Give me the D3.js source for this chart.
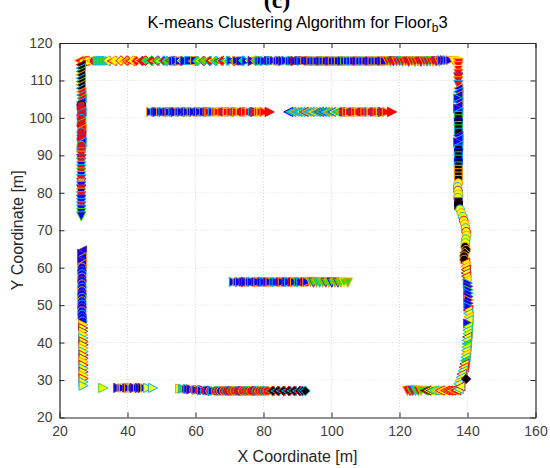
<!DOCTYPE html>
<html>
<head>
<meta charset="utf-8">
<script src="https://cdn.jsdelivr.net/npm/d3@7"></script>
<style>
  body { margin: 0; background: #fff; }
  svg { display: block; }
</style>
</head>
<body>
<svg width="550" height="468"></svg>
<script>
// Axis ticks
var xTicks = [20, 40, 60, 80, 100, 120, 140, 160];
var yTicks = [20, 30, 40, 50, 60, 70, 80, 90, 100, 110, 120];

// Points: [x, y, code]  code = shape + fill + edge
// shapes: < > v triangles, o circle, s square, d diamond
var topCorridor = [
  [25.8,115.3,"<ro"],[26.6,115.2,"<yr"],[27.5,115.4,"<oy"],[28.3,115.2,"oyr"],[29.2,115.3,"<yo"],[30.0,115.2,"ory"],
  [31.0,115.2,"sgc"],[31.9,115.3,"sgc"],[32.8,115.2,"sgc"],[33.6,115.2,"<gc"],[34.5,115.3,"dyo"],[35.4,115.2,"<yr"],
  [36.3,115.3,"dyo"],[37.2,115.2,"<oy"],[38.1,115.3,"dyr"],[39.0,115.2,"<yo"],[39.9,115.3,"dor"],[40.8,115.2,"<yr"],
  [41.7,115.3,"dyo"],[42.6,115.2,"dro"],[43.5,115.3,"<ry"],[44.4,115.2,"drp"],[45.3,115.3,"dgr"],[46.2,115.2,"<gc"],
  [47.1,115.3,"drg"],[48.0,115.2,"<go"],[48.9,115.3,"dgp"],[49.8,115.2,"<gy"],[50.7,115.3,"drc"],[51.6,115.2,"dgc"],
  [52.5,115.3,"<gp"],[53.4,115.2,"sbp"],[54.3,115.3,">bc"],[55.2,115.2,"sbo"],[56.1,115.3,"dgy"],[57.0,115.2,">bp"],
  [57.9,115.3,"sbc"],[58.8,115.2,"<gp"],[59.7,115.3,"sbo"],[60.6,115.2,"dgc"],[61.5,115.3,"<gy"],[62.4,115.2,"dgp"],
  [63.3,115.3,"<go"],[64.2,115.2,"drc"],[65.1,115.3,"<gy"],[66.0,115.2,"dgc"],[66.9,115.3,"<gp"],[67.8,115.2,"dro"],
  [68.7,115.3,"<gc"],[69.6,115.2,"dgy"],[70.5,115.3,">bc"],[71.4,115.2,"dgp"],[72.3,115.3,">bo"],[73.2,115.2,"sbp"],
  [74.1,115.3,"dgc"],[75.0,115.2,">bc"],[75.9,115.3,"<gy"],[76.8,115.2,">bp"],[77.7,115.3,"dgo"],[78.6,115.2,"sbc"],
  [79.5,115.3,">bg"],[80.4,115.2,">bc"],[81.3,115.3,"sbp"],[82.2,115.2,">bc"],[83.1,115.3,">bg"],[84.0,115.2,"sbo"],
  [84.9,115.3,">bc"],[85.8,115.2,">bp"],[86.7,115.3,">bc"],[87.6,115.2,"sbg"],[88.5,115.3,">bc"],[89.4,115.2,">br"],
  [90.3,115.3,"sbp"],[91.2,115.2,">bc"],[92.1,115.3,"sbo"],[93.0,115.2,"sbp"],[93.9,115.2,"sbo"],[94.8,115.2,"sbc"],
  [95.7,115.2,"sbo"],[96.6,115.2,"sbp"],[97.5,115.2,"sbg"],[98.4,115.2,"sbo"],[99.3,115.2,"sbp"],[100.2,115.2,"sbo"],
  [101.1,115.2,"sbc"],[102.0,115.2,"sbo"],[102.9,115.2,"sbp"],[103.8,115.2,"sbg"],[104.7,115.2,"sbo"],[105.6,115.2,"sbc"],
  [106.5,115.2,"sbo"],[107.4,115.2,"sbp"],[108.3,115.2,"sbo"],[109.2,115.2,"sbc"],[110.1,115.2,"sbo"],[111.0,115.2,"sbp"],
  [111.9,115.2,"sbo"],[112.8,115.2,"sbg"],[113.7,115.2,"sbo"],[114.6,115.2,"sbp"],[115.5,115.2,"sbo"],[116.4,115.1,"vro"],
  [117.3,115.0,"vrg"],[118.2,115.1,"vrp"],[119.1,115.0,"vro"],[120.0,115.1,"vrc"],[120.9,115.0,"vrg"],[121.8,115.1,"vro"],
  [122.7,115.0,"vrp"],[123.6,115.1,"vro"],[124.5,115.0,"vrg"],[125.4,115.1,"vro"],[126.3,115.0,"vrp"],[127.2,115.1,"vro"],
  [128.1,115.0,"vrc"],[129.0,115.1,"vrg"],[129.9,115.0,"vro"],[130.8,115.1,"vrp"],[131.7,115.0,"vro"],[132.6,115.4,">bc"],
  [133.4,115.4,">bp"],[134.2,115.4,">bc"],[135.0,115.4,">bo"],[135.9,115.2,"vyo"],[136.7,115.0,"voy"],[137.4,114.6,"vro"]
];

var leftUpper = [
  [26.3,114.2,"<kr"],[26.3,113.3,"<kc"],[26.3,112.4,"<kg"],[26.3,111.5,"<ko"],[26.3,110.6,"<kc"],[26.3,109.7,"<kg"],
  [26.3,108.8,"<ko"],[26.3,107.9,"<kc"],[26.4,107.0,"<ro"],[26.4,106.1,"<rc"],[26.5,105.2,"<rg"],[26.4,104.3,"<bc"],
  [26.4,103.4,"ork"],[26.4,102.5,"orp"],[26.5,101.6,"<rc"],[26.4,100.7,"orp"],[26.4,99.8,"orc"],[26.4,98.9,"<rg"],
  [26.4,98.0,"orp"],[26.5,97.1,"<ro"],[26.4,96.2,"orc"],[26.4,95.3,"<rp"],[26.4,94.4,"orp"],[26.5,93.5,"<bc"],
  [26.4,92.6,"org"],[26.4,91.7,"orp"],[26.5,90.8,"vrc"],[26.4,89.9,"vro"],[26.4,89.0,"vrp"],[26.4,88.1,"vrc"],
  [26.4,87.2,"vbo"],[26.4,86.3,"vrc"],[26.4,85.4,"vrg"],[26.4,84.5,"vbo"],[26.4,83.6,"vrc"],[26.4,82.7,"vop"],
  [26.4,81.8,"vbc"],[26.4,80.9,"vrp"],[26.4,80.0,"vbo"],[26.4,79.1,"vrc"],[26.4,78.2,"vbp"],[26.4,77.3,"vbc"],
  [26.4,76.4,"vrc"],[26.4,75.5,"vbc"],[26.4,74.6,"vbg"],[26.4,73.7,"vbg"]
];

var leftLower = [
  [26.6,64.6,"<bp"],[26.7,63.7,">bp"],[26.6,62.8,"<bo"],[26.7,61.9,">bp"],[26.6,61.0,"<bo"],[26.6,60.1,"obo"],
  [26.6,59.2,"obp"],[26.6,58.3,"obc"],[26.6,57.4,"obo"],[26.6,56.5,"obp"],[26.6,55.6,"obo"],[26.6,54.7,"obc"],
  [26.6,53.8,"obo"],[26.6,52.9,"obp"],[26.6,52.0,"obg"],[26.6,51.1,"obo"],[26.6,50.2,"obc"],[26.6,49.3,"obp"],
  [26.6,48.4,"obo"],[26.6,47.5,"obc"],[26.7,46.6,"obp"],[26.8,45.7,"obc"],[27.0,44.8,">yo"],[27.0,43.9,">yr"],
  [27.0,43.0,">yp"],[27.0,42.1,">yo"],[27.0,41.2,">yc"],[27.1,40.3,">yr"],[27.1,39.4,">yp"],[27.1,38.5,">yo"],
  [27.1,37.6,">yc"],[27.1,36.7,">yr"],[27.1,35.8,">yp"],[27.1,34.9,">yo"],[27.1,34.0,">yr"],[27.1,33.1,">yc"],
  [27.1,32.2,">yp"],[27.1,31.3,">yo"],[27.1,30.4,">yr"],[27.1,29.5,">yc"],[27.1,28.5,">yc"]
];

var rightCorridor = [
  [137.3,113.8,"vro"],[137.3,112.8,"vry"],[137.3,111.8,"vro"],[137.3,110.8,"vrp"],[137.3,109.8,"vro"],[137.3,108.8,"vrc"],
  [137.3,107.9,"<bo"],[137.3,107.0,"<bc"],[137.3,106.1,"<bo"],[137.3,105.2,">bg"],[137.3,104.3,"<bc"],[137.3,103.4,"<bo"],
  [137.3,102.5,">bp"],[137.3,101.6,"<bc"],[137.3,100.7,"skc"],[137.3,99.8,"skg"],[137.3,98.9,"skb"],[137.3,98.0,"skc"],
  [137.3,97.1,"skg"],[137.3,96.2,"skc"],[137.3,95.3,"<bp"],[137.3,94.4,"<bc"],[137.3,93.5,">bp"],[137.3,92.6,"<bc"],
  [137.3,91.7,"skc"],[137.3,90.8,"skb"],[137.3,89.9,"skc"],[137.3,89.0,"skc"],[137.3,88.1,"skb"],[137.3,87.2,"skc"],
  [137.3,86.3,"sko"],[137.3,85.4,"sko"],[137.3,84.5,"sko"],[137.3,83.6,"sko"],[137.3,82.6,"oyo"],[137.1,81.6,"oyc"],
  [137.2,80.6,"oyp"],[137.3,79.6,"oyo"],[137.2,78.7,"oyc"],[137.3,77.6,"skp"],[137.4,76.6,"skk"],[137.8,75.6,"oyc"],
  [138.2,74.6,"oyo"],[138.6,73.6,"oyc"],[138.9,72.6,"oyr"],[139.2,71.6,"oyo"],[139.4,70.6,"oyc"],[139.6,69.6,"oyr"],
  [139.7,68.6,"oyo"],[139.5,67.6,"oyc"],[139.4,66.6,"oyg"],[139.3,65.6,"oko"],[139.6,64.8,"oko"],[139.2,64.0,"dko"],
  [139.0,63.1,"oko"],[139.0,62.2,"oko"],[139.3,61.3,"<yr"],[139.4,60.4,"<yo"],[139.5,59.5,"<yr"],[139.5,58.6,"<yp"],
  [139.6,57.7,"<yr"],[139.7,56.8,"<yo"],[140.1,55.9,">bc"],[140.2,55.0,">bp"],[140.3,54.1,">bg"],[140.3,53.2,">bc"],
  [140.3,52.3,">bp"],[140.4,51.4,">bo"],[140.3,50.5,">bp"],[140.3,49.6,">bc"],[140.2,48.7,"<yr"],[140.2,47.8,"<yc"],
  [140.3,46.9,"<yo"],[140.3,46.0,"<yc"],[140.2,45.1,">bp"],[140.1,44.2,"<yg"],[140.0,43.3,"<yc"],[140.0,42.4,"<yg"],
  [139.9,41.5,"<yp"],[139.8,40.6,"<yc"],[139.8,39.7,"<gc"],[139.7,38.8,"<yg"],[139.6,37.9,"<yc"],[139.5,37.0,"<yo"],
  [139.4,36.1,"<yc"],[139.3,35.2,"<gc"],[139.1,34.3,"<yp"],[138.9,33.4,"<yr"],[138.6,32.5,"<yc"],[138.3,31.6,"<yp"],
  [138.0,30.7,"<yc"],[137.6,29.8,"<yo"],[137.3,29.0,"<yc"],[139.6,30.3,"dkp"]
];

var bottomRight = [
  [122.3,27.1,"vro"],[123.1,27.1,"vgr"],[123.9,27.1,"vrp"],[124.7,27.1,"vgc"],[125.5,27.1,"vrg"],[126.3,27.1,"vgo"],
  [127.1,27.2,"<kg"],[127.9,27.2,"<kr"],[128.7,27.2,"<ky"],[129.5,27.2,"<yg"],[130.3,27.2,"<yc"],[131.1,27.2,"<yo"],
  [131.9,27.2,"<yr"],[132.7,27.2,"<oy"],[133.5,27.2,"<yr"],[134.3,27.2,"<or"],[135.1,27.2,"<yr"],[135.9,27.2,"<ro"],
  [136.7,27.3,"<yr"],[137.4,27.6,"<yc"],[137.9,28.3,"<yp"]
];

var bottomLeft = [
  [32.9,27.9,">yg"],[37.3,27.9,">bp"],[38.1,27.9,"sbo"],[38.9,27.9,">by"],[39.7,27.9,"sbp"],[40.5,27.9,">bo"],
  [41.3,27.9,"sby"],[42.1,27.9,">bp"],[42.9,27.9,"sbo"],[43.7,27.9,">bp"],[44.5,27.9,">kp"],[45.3,27.9,">by"],
  [46.1,27.9,">yc"],[47.5,27.9,">yc"]
];

var bottomMid = [
  [55.5,27.7,">yo"],[56.3,27.7,">gc"],[57.1,27.6,"sbo"],[57.9,27.6,">bc"],[58.7,27.5,">bp"],[59.5,27.4,"orc"],
  [60.3,27.4,">bo"],[61.1,27.3,"orp"],[61.9,27.2,">bc"],[62.7,27.2,"orc"],[63.5,27.2,"obp"],[64.3,27.1,"oro"],
  [65.1,27.1,">bc"],[65.9,27.1,"org"],[66.7,27.1,"orc"],[67.5,27.1,"obo"],[68.3,27.1,"oro"],[69.1,27.1,"orc"],
  [69.9,27.1,"orp"],[70.7,27.1,"org"],[71.5,27.1,"oro"],[72.3,27.1,"orc"],[73.1,27.1,"orp"],[73.9,27.1,"oro"],
  [74.7,27.1,"orc"],[75.5,27.1,"org"],[76.3,27.1,"oro"],[77.1,27.1,"orp"],[77.9,27.1,"orc"],[78.7,27.1,"oro"],
  [79.5,27.1,"org"],[80.3,27.1,"orc"],[81.1,27.1,"oro"],[81.9,27.1,"<kg"],[82.7,27.1,"dkr"],[83.5,27.1,"<kc"],
  [84.3,27.1,"dkr"],[85.1,27.1,"<kc"],[85.9,27.1,"dkr"],[86.7,27.1,"<kc"],[87.5,27.1,"dkr"],[88.3,27.1,"<kc"],
  [89.1,27.1,"dkr"],[89.9,27.1,"<kc"],[90.7,27.1,"dkr"],[91.5,27.1,"dkc"],[92.3,27.1,"dkc"]
];

var rowUpperLeft = [
  [47.0,101.6,">bo"],[47.9,101.6,"sbc"],[48.8,101.6,">bp"],[49.7,101.6,"sbo"],[50.6,101.6,">bc"],[51.5,101.6,"sbp"],
  [52.4,101.6,">bo"],[53.3,101.6,"sbc"],[54.2,101.6,">bp"],[55.1,101.6,"sbo"],[56.0,101.6,">bc"],[56.9,101.6,"sbp"],
  [57.8,101.6,">bg"],[58.7,101.6,"sbo"],[59.6,101.6,">bc"],[60.5,101.6,"sbp"],[61.4,101.6,">bo"],[62.3,101.6,"sbc"],
  [63.2,101.6,"srp"],[64.1,101.6,">ro"],[65.0,101.6,"sbc"],[65.9,101.6,"sro"],[66.8,101.6,">ry"],[67.7,101.6,"sro"],
  [68.6,101.6,"srp"],[69.5,101.6,">ry"],[70.4,101.6,"sro"],[71.3,101.6,"src"],[72.2,101.6,">ro"],[73.1,101.6,"sry"],
  [74.0,101.6,"srp"],[74.9,101.6,">ro"],[75.8,101.6,"sry"],[76.7,101.6,"src"],[77.6,101.6,">rp"],[78.5,101.6,"sro"],
  [79.4,101.6,">ry"],[80.3,101.6,">ro"],[81.8,101.6,">rr"]
];

var rowUpperRight = [
  [87.3,101.6,"<cb"],[88.2,101.6,"<gc"],[89.1,101.6,"<co"],[90.0,101.6,"<gc"],[90.9,101.6,"<yc"],[91.8,101.6,"<gp"],
  [92.7,101.6,"<co"],[93.6,101.6,"<gc"],[94.5,101.6,"<yo"],[95.4,101.6,"<gc"],[96.3,101.6,"<gp"],[97.2,101.6,"<bc"],
  [98.1,101.6,"<gc"],[99.0,101.6,"<go"],[99.9,101.6,"<bc"],[100.8,101.6,"<gy"],[101.7,101.6,"<gc"],[102.6,101.6,"<go"],
  [103.5,101.6,"srp"],[104.4,101.6,"sro"],[105.3,101.6,"sry"],[106.2,101.6,"srp"],[107.1,101.6,"sro"],[108.0,101.6,"sry"],
  [108.9,101.6,"srp"],[109.8,101.6,"sro"],[110.7,101.6,"src"],[111.6,101.6,"sry"],[112.5,101.6,"srp"],[113.4,101.6,"sro"],
  [114.3,101.6,"sry"],[115.2,101.6,">rp"],[116.3,101.6,">ro"],[117.8,101.6,">rr"]
];

var rowMiddle = [
  [71.3,56.2,">bc"],[72.2,56.2,"sbo"],[73.1,56.2,">bc"],[74.0,56.2,"sbr"],[74.9,56.2,">bp"],[75.8,56.2,"sbo"],
  [76.7,56.2,">bc"],[77.6,56.2,"sbr"],[78.5,56.2,">bo"],[79.4,56.2,"sbp"],[80.3,56.2,">bc"],[81.2,56.2,"sbr"],
  [82.1,56.2,">bo"],[83.0,56.2,"sbg"],[83.9,56.2,">bc"],[84.8,56.2,"sbr"],[85.7,56.2,">bo"],[86.6,56.2,"sbp"],
  [87.5,56.2,">bc"],[88.4,56.2,"sbr"],[89.3,56.2,">bo"],[90.2,56.2,"sbg"],[91.1,56.2,">bc"],[92.0,56.2,"sbr"],
  [92.9,56.2,">bo"],[93.8,56.2,"vgo"],[94.7,56.0,"vgp"],[95.6,56.0,"vgo"],[96.5,56.0,"vgc"],[97.4,56.0,"vgo"],
  [98.3,56.0,"vgp"],[99.2,56.0,"vgo"],[100.1,56.0,"vgb"],[101.0,56.0,"vgo"],[101.9,56.0,"vgp"],[102.8,56.0,"vgo"],
  [103.7,56.0,"vgy"],[104.8,56.0,"vgo"]
];

// colour letters
var colorCodes = ["r", "b", "g", "y", "k", "c", "o", "p"];
var colorValues = ["#ff0000", "#0000ff", "#33dd00", "#ffff00", "#000000", "#00b4ff", "#ff9900", "#7e2f8e"];

var svg = d3.select("svg"),
  width = +svg.attr("width"),
  height = +svg.attr("height");

var margin = {top: 43, right: 14.5, bottom: 50.5, left: 59.5};
var plotW = width - margin.left - margin.right,
  plotH = height - margin.top - margin.bottom;

var x = d3.scaleLinear().domain([20, 160]).range([margin.left, margin.left + plotW]);
var y = d3.scaleLinear().domain([20, 120]).range([margin.top + plotH, margin.top]);
var color = d3.scaleOrdinal().domain(colorCodes).range(colorValues);

var fontFam = "'Liberation Sans', Arial, Helvetica, sans-serif";

// grid
svg.append("g")
  .selectAll("line")
  .data(xTicks.slice(1, -1))
  .enter().append("line")
    .attr("x1", function(d) { return x(d); })
    .attr("x2", function(d) { return x(d); })
    .attr("y1", margin.top)
    .attr("y2", margin.top + plotH)
    .attr("stroke", "#dcdcdc")
    .attr("stroke-width", 1)
    .attr("stroke-dasharray", "1,2");
svg.append("g")
  .selectAll("line")
  .data(yTicks.slice(1, -1))
  .enter().append("line")
    .attr("x1", margin.left)
    .attr("x2", margin.left + plotW)
    .attr("y1", function(d) { return y(d); })
    .attr("y2", function(d) { return y(d); })
    .attr("stroke", "#dcdcdc")
    .attr("stroke-width", 1)
    .attr("stroke-dasharray", "1,2");

// marker shapes
function markerPath(shape) {
  var s = 4.6;
  if (shape === "<") return "M" + (-s) + ",0L" + s + "," + (-s) + "L" + s + "," + s + "Z";
  if (shape === ">") return "M" + s + ",0L" + (-s) + "," + (-s) + "L" + (-s) + "," + s + "Z";
  if (shape === "v") return "M0," + s + "L" + (-s) + "," + (-s) + "L" + s + "," + (-s) + "Z";
  if (shape === "s") return "M-3.9,-3.9L3.9,-3.9L3.9,3.9L-3.9,3.9Z";
  if (shape === "d") return "M0,-4.9L4.9,0L0,4.9L-4.9,0Z";
  return d3.symbol().type(d3.symbolCircle).size(58)();
}

var allPoints = [].concat(topCorridor, leftUpper, leftLower, rightCorridor,
  bottomRight, bottomLeft, bottomMid, rowUpperLeft, rowUpperRight, rowMiddle);

svg.append("g")
  .selectAll("path")
  .data(allPoints)
  .enter()
  .append("path")
    .attr("transform", function(d) { return "translate(" + x(d[0]) + "," + y(d[1]) + ")"; })
    .attr("d", function(d) { return markerPath(d[2][0]); })
    .attr("fill", function(d) { return color(d[2][1]); })
    .attr("stroke", function(d) { return color(d[2][2]); })
    .attr("stroke-width", 1);

// axes (box with inward ticks)
var axisColor = "#262626";
var xAxis = svg.append("g")
  .attr("transform", "translate(0," + (margin.top + plotH) + ")")
  .call(d3.axisBottom(x).tickValues(xTicks).tickSizeInner(-5).tickSizeOuter(0).tickPadding(9));
var yAxis = svg.append("g")
  .attr("transform", "translate(" + margin.left + ",0)")
  .call(d3.axisLeft(y).tickValues(yTicks).tickSizeInner(-5).tickSizeOuter(0).tickPadding(7));
var xTop = svg.append("g")
  .attr("transform", "translate(0," + margin.top + ")")
  .call(d3.axisTop(x).tickValues(xTicks).tickSizeInner(-5).tickSizeOuter(0).tickFormat(""));
var yRight = svg.append("g")
  .attr("transform", "translate(" + (margin.left + plotW) + ",0)")
  .call(d3.axisRight(y).tickValues(yTicks).tickSizeInner(-5).tickSizeOuter(0).tickFormat(""));

[xAxis, yAxis, xTop, yRight].forEach(function(a) {
  a.selectAll("path").attr("stroke", axisColor).attr("stroke-width", 1.2);
  a.selectAll("line").attr("stroke", axisColor);
  a.selectAll("text").attr("fill", "#404040").style("font-family", fontFam).style("font-size", "14px");
});

// labels
svg.append("text")
  .attr("x", x(90))
  .attr("y", 462)
  .attr("text-anchor", "middle")
  .style("font-family", fontFam)
  .style("font-size", "16px")
  .attr("fill", "#262626")
  .text("X Coordinate [m]");

svg.append("text")
  .attr("transform", "translate(23," + y(70) + ") rotate(-90)")
  .attr("text-anchor", "middle")
  .style("font-family", fontFam)
  .style("font-size", "16px")
  .attr("fill", "#262626")
  .text("Y Coordinate [m]");

var title = svg.append("text")
  .attr("x", x(90))
  .attr("y", 28)
  .attr("text-anchor", "middle")
  .style("font-family", fontFam)
  .style("font-size", "16.5px")
  .attr("fill", "#000");
title.append("tspan").text("K-means Clustering Algorithm for Floor");
title.append("tspan").attr("dy", 4).style("font-size", "12px").text("b");
title.append("tspan").attr("dy", -4).text("3");

svg.append("text")
  .attr("x", 277)
  .attr("y", 8)
  .attr("text-anchor", "middle")
  .style("font-family", "'Liberation Serif', 'Times New Roman', serif")
  .style("font-weight", "bold")
  .style("font-size", "24px")
  .attr("fill", "#000")
  .text("(c)");
</script>
</body>
</html>
